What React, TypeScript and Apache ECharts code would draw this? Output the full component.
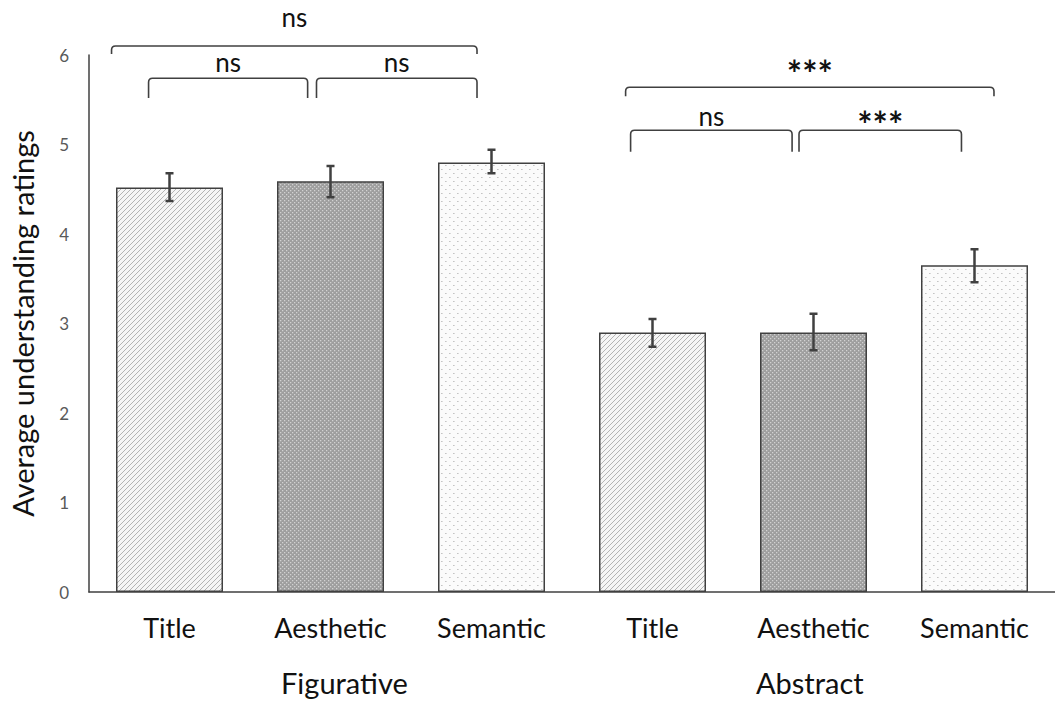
import React, { useEffect, useRef } from "react";
import * as echarts from "echarts";

// ---- data ----
const categoryKeys = ["Figurative|Title", "Figurative|Aesthetic", "Figurative|Semantic", "Abstract|Title", "Abstract|Aesthetic", "Abstract|Semantic"];
const meanRatings = [4.52, 4.59, 4.8, 2.9, 2.9, 3.65];
const errLow = [4.37, 4.41, 4.68, 2.74, 2.7, 3.46];
const errHigh = [4.68, 4.76, 4.94, 3.05, 3.11, 3.83];
const yTicks = [0, 1, 2, 3, 4, 5, 6];
const groups = ["Figurative", "Abstract"];
// brackets: x start, x end, y of bar, y of ends, label, label y
const bracketStart = [-0.36, -0.13, 0.913, 2.833, 2.864, 3.91];
const bracketEnd = [1.91, 0.858, 1.91, 5.121, 3.867, 4.919];
const bracketTop = [6.1, 5.74, 5.74, 5.64, 5.16, 5.16];
const bracketFoot = [6.01, 5.52, 5.52, 5.54, 4.92, 4.92];
const bracketLabels = ["ns", "ns", "ns", "***", "ns", "***"];
const bracketLabelY = [6.42, 5.92, 5.92, 5.85, 5.32, 5.28];

const FONT = "Lato, 'Open Sans', sans-serif";

function makePattern(kind: string): HTMLCanvasElement {
  const c = document.createElement("canvas");
  const ctx = c.getContext("2d")!;
  if (kind === "hatch") {
    c.width = 5; c.height = 5;
    ctx.fillStyle = "#f6f6f6";
    ctx.fillRect(0, 0, 5, 5);
    ctx.strokeStyle = "#b4b4b4";
    ctx.lineWidth = 1;
    ctx.beginPath();
    ctx.moveTo(-1, 6); ctx.lineTo(6, -1);
    ctx.moveTo(-1, 1); ctx.lineTo(1, -1);
    ctx.moveTo(4, 6); ctx.lineTo(6, 4);
    ctx.stroke();
  } else if (kind === "dense") {
    c.width = 4; c.height = 4;
    ctx.fillStyle = "#9e9e9e";
    ctx.fillRect(0, 0, 4, 4);
    ctx.fillStyle = "#d2d2d2";
    ctx.fillRect(0, 0, 1.3, 1.3);
    ctx.fillRect(2, 2, 1.3, 1.3);
  } else {
    c.width = 8; c.height = 8;
    ctx.fillStyle = "#fbfbfb";
    ctx.fillRect(0, 0, 8, 8);
    ctx.fillStyle = "#c4c4c4";
    ctx.fillRect(1, 1, 1.6, 1);
    ctx.fillRect(5, 5, 1.6, 1);
  }
  return c;
}

export default function App() {
  const ref = useRef<HTMLDivElement>(null);
  useEffect(() => {
    const chart = echarts.init(ref.current!, null, { renderer: "svg" });
    const patterns = [makePattern("hatch"), makePattern("dense"), makePattern("dots")];
    const barData = meanRatings.map((v, i) => ({
      value: v,
      itemStyle: { color: { image: patterns[i % 3], repeat: "repeat" } as any },
    }));
    const errData = meanRatings.map((_, i) => [i, errLow[i], errHigh[i]]);
    const bracketData = bracketLabels.map((_, i) => [bracketStart[i], bracketEnd[i], bracketTop[i], bracketFoot[i], i]);

    chart.setOption({
      animation: false,
      grid: { left: 87, top: 55, width: 981, height: 537, containLabel: false },
      xAxis: [
        {
          type: "category",
          data: categoryKeys,
          axisLine: { onZero: false, lineStyle: { color: "#404040", width: 1.5 } },
          axisTick: { show: false },
          axisLabel: {
            formatter: (v: string) => v.split("|")[1],
            color: "#111",
            fontFamily: FONT,
            fontSize: 27,
            margin: 22,
          },
        },
        {
          type: "value", min: -0.5, max: 5.5, show: false,
          axisLine: { show: false, onZero: false }, splitLine: { show: false }, axisTick: { show: false }, axisLabel: { show: false },
        },
      ],
      yAxis: {
        type: "value",
        min: yTicks[0],
        max: yTicks[yTicks.length - 1],
        interval: 1,
        name: "Average understanding ratings",
        nameLocation: "middle",
        nameGap: 52,
        nameTextStyle: { color: "#111", fontFamily: FONT, fontSize: 29 },
        axisLine: { show: true, onZero: false, lineStyle: { color: "#404040", width: 1.5 } },
        axisTick: { show: false },
        splitLine: { show: false },
        axisLabel: { color: "#595959", fontFamily: FONT, fontSize: 17, margin: 20 },
      },
      graphic: [
        { type: "text", left: 346 - 65, top: 668, style: { text: groups[0], font: `29px ${FONT}`, fill: "#111" } },
        { type: "text", left: 811 - 55, top: 668, style: { text: groups[1], font: `29px ${FONT}`, fill: "#111" } },
      ],
      series: [
        {
          type: "bar",
          data: barData,
          barWidth: 107,
          z: 2,
          itemStyle: { borderColor: "#404040", borderWidth: 1.5 },
        },
        {
          type: "custom",
          xAxisIndex: 1,
          clip: false,
          z: 10,
          data: errData,
          encode: { x: 0, y: [1, 2] },
          renderItem: (params: any, api: any) => {
            const x = api.value(0);
            const lo = api.coord([x, api.value(1)]);
            const hi = api.coord([x, api.value(2)]);
            const w = 4;
            const d = `M${lo[0] - w},${lo[1]} L${lo[0] + w},${lo[1]} M${lo[0]},${lo[1]} L${hi[0]},${hi[1]} M${hi[0] - w},${hi[1]} L${hi[0] + w},${hi[1]}`;
            return {
              type: "path",
              shape: { pathData: d },
              style: { stroke: "#404040", lineWidth: 2.5, fill: "none" },
            };
          },
        },
        {
          type: "custom",
          xAxisIndex: 1,
          clip: false,
          z: 10,
          data: bracketData,
          encode: { x: [0, 1], y: [2, 3] },
          renderItem: (params: any, api: any) => {
            const idx = api.value(4);
            const a = api.coord([api.value(0), api.value(2)]);
            const b = api.coord([api.value(1), api.value(2)]);
            const foot = api.coord([api.value(0), api.value(3)])[1];
            const r = 4;
            const y = a[1];
            const d = `M${a[0]},${foot} L${a[0]},${y + r} Q${a[0]},${y} ${a[0] + r},${y} L${b[0] - r},${y} Q${b[0]},${y} ${b[0]},${y + r} L${b[0]},${foot}`;
            const ly = a[1] + (api.coord([0, bracketLabelY[idx]])[1] - api.coord([0, api.value(2)])[1]);
            const isStar = bracketLabels[idx].indexOf("*") >= 0;
            return {
              type: "group",
              children: [
                { type: "path", shape: { pathData: d }, style: { stroke: "#404040", lineWidth: 1.6, fill: "none" } },
                {
                  type: "text",
                  x: (a[0] + b[0]) / 2,
                  y: ly + (isStar ? 5 : 0),
                  style: {
                    text: bracketLabels[idx],
                    align: "center",
                    verticalAlign: "middle",
                    font: isStar ? `bold 36px ${FONT}` : `26px ${FONT}`,
                    fill: "#111",
                  },
                },
              ],
            };
          },
        },
      ],
    });
    return () => chart.dispose();
  }, []);
  return <div ref={ref} style={{ position: "fixed", left: 0, top: 0, width: 1055, height: 708, background: "#fff" }} />;
}
